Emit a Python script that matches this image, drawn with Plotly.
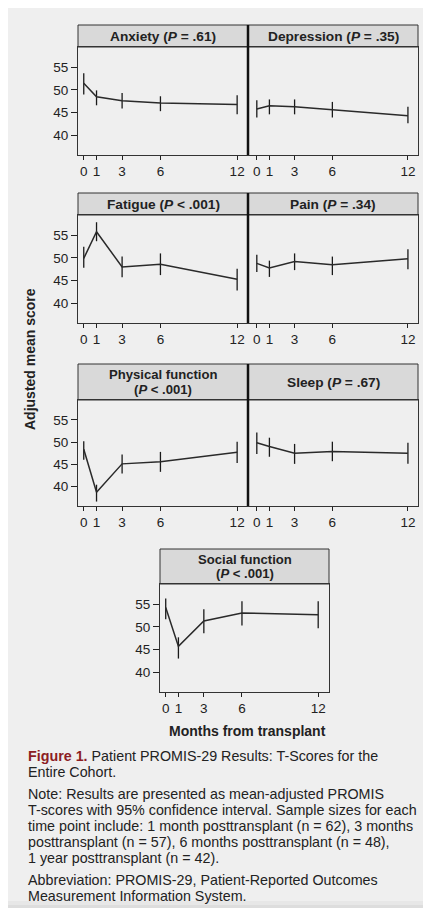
import plotly.graph_objects as go

# months after transplant (x positions of the time points)
months = [0, 1, 3, 6, 12]
month_ticks = [0, 1, 3, 6, 12]
score_ticks = [40, 45, 50, 55]

# adjusted mean T-scores with 95% CI
anxiety_mean = [51.5, 48.5, 47.6, 47.1, 46.8]
anxiety_lo = [49.0, 46.6, 45.9, 45.3, 44.6]
anxiety_hi = [53.7, 49.9, 49.3, 48.6, 48.8]

depression_mean = [45.8, 46.5, 46.25, 45.6, 44.3]
depression_lo = [43.9, 44.6, 44.6, 43.9, 42.6]
depression_hi = [47.7, 47.9, 47.9, 47.35, 46.25]

fatigue_mean = [49.9, 55.8, 48.0, 48.6, 45.3]
fatigue_lo = [47.8, 53.7, 45.7, 46.2, 42.8]
fatigue_hi = [52.5, 57.9, 50.3, 51.0, 47.6]

pain_mean = [48.8, 47.8, 49.2, 48.5, 49.8]
pain_lo = [46.9, 45.8, 47.3, 46.2, 47.5]
pain_hi = [50.7, 49.4, 51.0, 50.3, 51.9]

physical_mean = [48.4, 38.7, 45.1, 45.6, 47.7]
physical_lo = [46.0, 36.6, 42.9, 43.3, 45.3]
physical_hi = [50.2, 40.4, 47.2, 47.8, 50.1]

sleep_mean = [49.85, 49.0, 47.5, 47.9, 47.5]
sleep_lo = [47.3, 46.7, 45.1, 45.7, 45.1]
sleep_hi = [52.2, 51.0, 49.6, 50.1, 49.85]

social_mean = [54.3, 45.7, 51.3, 53.1, 52.7]
social_lo = [51.7, 43.0, 48.6, 50.3, 49.7]
social_hi = [56.3, 47.7, 53.9, 55.7, 55.7]

# panel strip titles (one entry per line)
titles = [
    ["<b>Anxiety (<i>P</i> = .61)</b>"],
    ["<b>Depression (<i>P</i> = .35)</b>"],
    ["<b>Fatigue (<i>P</i> < .001)</b>"],
    ["<b>Pain (<i>P</i> = .34)</b>"],
    ["<b>Physical function</b>", "<b>(<i>P</i> < .001)</b>"],
    ["<b>Sleep (<i>P</i> = .67)</b>"],
    ["<b>Social function</b>", "<b>(<i>P</i> < .001)</b>"],
]

W, H = 431, 908
FONT = "Liberation Sans, Arial, sans-serif"
BG = "#efefef"

# panel boxes in pixels: left, right, plot top, plot bottom, header top
boxes = [
    (70, 240, 39, 147, 17),
    (240, 410, 39, 147, 17),
    (70, 240, 207, 315, 185),
    (240, 410, 207, 315, 185),
    (70, 240, 392, 498, 356),
    (240, 410, 392, 498, 356),
    (152, 321, 576, 684, 541),
]
left_side = [True, False, True, False, True, False, True]


def px(x):
    return x / W


def py(y):
    return 1 - y / H


series = [
    (anxiety_mean, anxiety_lo, anxiety_hi),
    (depression_mean, depression_lo, depression_hi),
    (fatigue_mean, fatigue_lo, fatigue_hi),
    (pain_mean, pain_lo, pain_hi),
    (physical_mean, physical_lo, physical_hi),
    (sleep_mean, sleep_lo, sleep_hi),
    (social_mean, social_lo, social_hi),
]

fig = go.Figure()
shapes = []
annotations = []

for i, ((mean, lo, hi), box, title, is_left) in enumerate(zip(series, boxes, titles, left_side), start=1):
    l, r, top, bot, htop = box
    sfx = "" if i == 1 else str(i)
    fig.add_trace(go.Scatter(
        x=months, y=mean, mode="lines",
        line=dict(color="#2a2a2a", width=1.5),
        error_y=dict(type="data", symmetric=False,
                     array=[h - m for h, m in zip(hi, mean)],
                     arrayminus=[m - lo_ for m, lo_ in zip(mean, lo)],
                     width=0, thickness=1.3, color="#1a1a1a"),
        xaxis="x" + sfx, yaxis="y" + sfx, showlegend=False, hoverinfo="skip",
    ))
    fig.layout["xaxis" + sfx] = dict(
        domain=[px(l), px(r)], anchor="y" + sfx,
        range=[-0.45, 12.85] if is_left else [-0.7, 12.8],
        tickvals=month_ticks, ticks="outside", ticklen=4, tickwidth=1, tickcolor="#222",
        showgrid=False, zeroline=False, showline=True, mirror=True,
        linecolor="#333", linewidth=1,
        tickfont=dict(family=FONT, size=13.5, color="#222"),
    )
    fig.layout["yaxis" + sfx] = dict(
        domain=[py(bot), py(top)], anchor="x" + sfx,
        range=[35.6, 59.5], tickvals=score_ticks,
        ticks="outside" if is_left else "", ticklen=6, tickwidth=1, tickcolor="#222",
        showticklabels=is_left, showgrid=False, zeroline=False,
        showline=True, mirror=True, linecolor="#333", linewidth=1,
        tickfont=dict(family=FONT, size=13.5, color="#222"),
    )
    # strip header
    shapes.append(dict(type="rect", xref="paper", yref="paper",
                       x0=px(l), x1=px(r), y0=py(top), y1=py(htop),
                       fillcolor="#d9d9d9", line=dict(color="#333", width=1), layer="below"))
    mid = (top + htop) / 2
    step = 14.8
    size = 13.7 if len(title) == 1 else 13.1
    first = mid - step * (len(title) - 1) / 2
    for k, line in enumerate(title):
        annotations.append(dict(text=line, xref="paper", yref="paper",
                                x=px((l + r) / 2), y=py(first + k * step),
                                xanchor="center", yanchor="middle", showarrow=False,
                                borderpad=0,
                                font=dict(family=FONT, size=size, color="#222")))

# thick dividers between side-by-side panels
for y0, y1 in [(17, 147), (185, 315), (356, 498)]:
    shapes.append(dict(type="line", xref="paper", yref="paper",
                       x0=px(240), x1=px(240), y0=py(y1), y1=py(y0),
                       line=dict(color="#111", width=2.5)))

# soft shadow along the bottom edge of the page
for k, (y0, alpha) in enumerate([(893, 0.03), (897, 0.04), (901, 0.05), (904, 0.06)]):
    shapes.append(dict(type="rect", xref="paper", yref="paper",
                       x0=0, x1=1, y0=0, y1=py(y0),
                       fillcolor=f"rgba(0,0,0,{alpha})", line=dict(width=0), layer="below"))

# axis titles
annotations.append(dict(text="<b>Adjusted mean score</b>", xref="paper", yref="paper",
                        x=px(22), y=py(351), textangle=-90, showarrow=False,
                        xanchor="center", yanchor="middle",
                        font=dict(family=FONT, size=14, color="#222")))
annotations.append(dict(text="<b>Months from transplant</b>", xref="paper", yref="paper",
                        x=px(239), y=py(723), showarrow=False,
                        xanchor="center", yanchor="middle",
                        font=dict(family=FONT, size=14, color="#222")))

# caption
caption = [
    ("<span style='color:#8c1d24'><b>Figure 1.</b></span> Patient PROMIS-29 Results: T-Scores for the", 748),
    ("Entire Cohort.", 764),
    ("Note: Results are presented as mean-adjusted PROMIS", 786),
    ("T-scores with 95% confidence interval. Sample sizes for each", 802),
    ("time point include: 1 month posttransplant (n = 62), 3 months", 818),
    ("posttransplant (n = 57), 6 months posttransplant (n = 48),", 834),
    ("1 year posttransplant (n = 42).", 850),
    ("Abbreviation: PROMIS-29, Patient-Reported Outcomes", 872),
    ("Measurement Information System.", 888),
]
for text, y in caption:
    annotations.append(dict(text=text, xref="paper", yref="paper",
                            x=px(19), y=py(y), xanchor="left", yanchor="middle",
                            showarrow=False, align="left", borderpad=0,
                            font=dict(family=FONT, size=14.3, color="#222")))

fig.update_layout(
    width=W, height=H,
    margin=dict(l=0, r=0, t=0, b=0),
    paper_bgcolor=BG, plot_bgcolor=BG,
    shapes=shapes, annotations=annotations,
    showlegend=False,
)

fig.write_html("out.html")
